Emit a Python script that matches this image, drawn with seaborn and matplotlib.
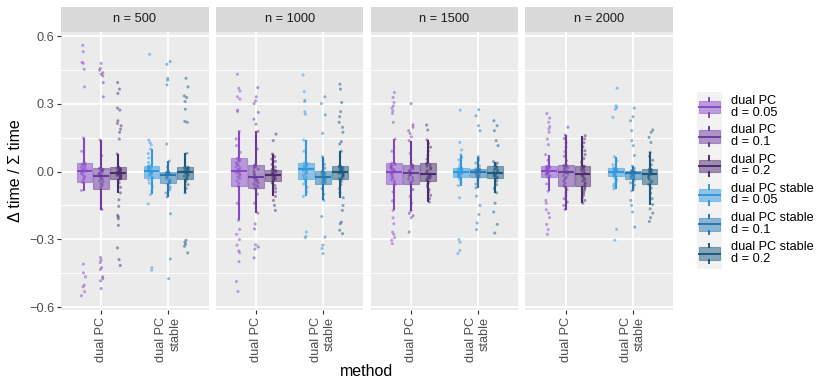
import matplotlib
matplotlib.use("Agg")
import matplotlib.pyplot as plt
import numpy as np
import pandas as pd
import seaborn as sns
from matplotlib.colors import to_rgba
from matplotlib.patches import Rectangle
from matplotlib.lines import Line2D
from matplotlib.legend_handler import HandlerBase

plt.rcParams['font.family'] = ['Liberation Sans', 'DejaVu Sans']

sizes = [500, 1000, 1500, 2000]
methods = ["dual PC", "dual PC stable"]
degrees = ["0.05", "0.1", "0.2"]
method_ticks = ["dual PC", "dual PC\nstable"]
purples = ["#8648c8", "#6b3a9e", "#4b2a6e"]
blues = ["#2e98e0", "#2478b4", "#1a587e"]

# delta time / sum time (one list per n / method / d)
n500_dual_005 = [-0.550, -0.532, -0.510, -0.503, -0.466, -0.449, -0.410, -0.084, -0.047, -0.038, -0.030, -0.022, -0.015, -0.008, -0.003, 0.001, 0.004, 0.009, 0.014, 0.019, 0.024, 0.028, 0.032, 0.035, 0.037, 0.090, 0.149, 0.375, 0.453, 0.479, 0.484, 0.531, 0.559]
n500_dual_01 = [-0.518, -0.484, -0.474, -0.466, -0.434, -0.425, -0.403, -0.393, -0.381, -0.168, -0.076, -0.068, -0.060, -0.053, -0.046, -0.040, -0.034, -0.029, -0.025, -0.021, -0.018, -0.014, -0.010, -0.006, -0.002, 0.002, 0.005, 0.008, 0.011, 0.013, 0.015, 0.070, 0.140, 0.331, 0.394, 0.424, 0.431, 0.438, 0.449, 0.457, 0.479]
n500_dual_02 = [-0.416, -0.390, -0.338, -0.238, -0.209, -0.201, -0.194, -0.154, -0.125, -0.094, -0.070, -0.050, -0.035, -0.032, -0.029, -0.026, -0.023, -0.020, -0.017, -0.015, -0.013, -0.011, -0.009, -0.008, -0.007, -0.005, -0.003, -0.001, 0.001, 0.003, 0.005, 0.008, 0.010, 0.012, 0.015, 0.017, 0.019, 0.078, 0.144, 0.174, 0.188, 0.203, 0.213, 0.225, 0.272, 0.281, 0.346, 0.365, 0.394]
n500_stable_005 = [-0.437, -0.425, -0.143, -0.101, -0.085, -0.068, -0.052, -0.038, -0.028, -0.023, -0.018, -0.013, -0.009, -0.005, -0.002, 0.000, 0.001, 0.004, 0.008, 0.011, 0.015, 0.018, 0.021, 0.024, 0.026, 0.040, 0.060, 0.080, 0.100, 0.118, 0.128, 0.140, 0.519]
n500_stable_01 = [-0.474, -0.387, -0.187, -0.113, -0.095, -0.080, -0.068, -0.058, -0.050, -0.045, -0.040, -0.035, -0.030, -0.025, -0.020, -0.016, -0.013, -0.011, -0.009, -0.007, -0.005, -0.004, -0.002, -0.001, 0.000, 0.020, 0.046, 0.122, 0.384, 0.404, 0.413, 0.475, 0.487]
n500_stable_02 = [-0.360, -0.331, -0.322, -0.313, -0.304, -0.094, -0.075, -0.058, -0.045, -0.035, -0.030, -0.025, -0.021, -0.017, -0.013, -0.010, -0.007, -0.005, -0.003, 0.000, 0.003, 0.006, 0.009, 0.011, 0.014, 0.016, 0.018, 0.019, 0.081, 0.218, 0.222, 0.276, 0.310, 0.328, 0.335, 0.375, 0.413]

n1000_dual_005 = [-0.531, -0.487, -0.399, -0.359, -0.351, -0.326, -0.301, -0.278, -0.256, -0.216, -0.140, -0.065, -0.052, -0.041, -0.031, -0.023, -0.016, -0.010, -0.005, -0.001, 0.001, 0.003, 0.004, 0.009, 0.015, 0.021, 0.027, 0.033, 0.039, 0.044, 0.049, 0.053, 0.056, 0.059, 0.085, 0.115, 0.145, 0.178, 0.266, 0.272, 0.321, 0.331, 0.357, 0.369, 0.431]
n1000_dual_01 = [-0.382, -0.343, -0.334, -0.324, -0.254, -0.232, -0.184, -0.140, -0.100, -0.074, -0.068, -0.062, -0.056, -0.050, -0.044, -0.038, -0.033, -0.029, -0.025, -0.018, -0.011, -0.004, 0.003, 0.010, 0.016, 0.021, 0.025, 0.029, 0.100, 0.178, 0.210, 0.232, 0.262, 0.301, 0.313, 0.331, 0.372]
n1000_dual_02 = [-0.172, -0.150, -0.128, -0.110, -0.090, -0.075, -0.062, -0.050, -0.040, -0.037, -0.034, -0.031, -0.027, -0.024, -0.020, -0.017, -0.015, -0.012, -0.009, -0.006, -0.002, 0.001, 0.004, 0.007, 0.009, 0.020, 0.032, 0.045, 0.055, 0.066, 0.078, 0.137, 0.166]
n1000_stable_005 = [-0.293, -0.287, -0.268, -0.110, -0.090, -0.070, -0.055, -0.042, -0.032, -0.025, -0.018, -0.011, -0.005, 0.000, 0.004, 0.007, 0.010, 0.014, 0.018, 0.022, 0.026, 0.030, 0.033, 0.036, 0.038, 0.090, 0.140, 0.254, 0.265, 0.310, 0.316, 0.354, 0.428]
n1000_stable_01 = [-0.363, -0.341, -0.326, -0.290, -0.199, -0.128, -0.100, -0.075, -0.054, -0.050, -0.046, -0.042, -0.038, -0.034, -0.031, -0.028, -0.025, -0.021, -0.018, -0.014, -0.010, -0.007, -0.004, -0.001, 0.001, 0.015, 0.032, 0.050, 0.066, 0.169, 0.251, 0.301, 0.331]
n1000_stable_02 = [-0.275, -0.260, -0.231, -0.224, -0.172, -0.150, -0.116, -0.095, -0.075, -0.058, -0.045, -0.035, -0.031, -0.027, -0.023, -0.019, -0.016, -0.013, -0.010, -0.008, -0.006, -0.004, -0.003, 0.000, 0.003, 0.006, 0.009, 0.012, 0.015, 0.018, 0.020, 0.022, 0.024, 0.026, 0.090, 0.122, 0.132, 0.174, 0.196, 0.218, 0.243, 0.265, 0.306, 0.365, 0.387]

n1500_dual_005 = [-0.319, -0.304, -0.293, -0.278, -0.268, -0.231, -0.205, -0.172, -0.130, -0.090, -0.057, -0.050, -0.043, -0.036, -0.029, -0.022, -0.016, -0.010, -0.005, -0.002, 0.000, 0.004, 0.008, 0.012, 0.016, 0.020, 0.024, 0.028, 0.031, 0.034, 0.037, 0.090, 0.144, 0.218, 0.257, 0.269, 0.281, 0.291, 0.306, 0.328, 0.350]
n1500_dual_01 = [-0.268, -0.204, -0.195, -0.185, -0.175, -0.140, -0.110, -0.080, -0.054, -0.047, -0.040, -0.033, -0.026, -0.019, -0.013, -0.010, -0.007, -0.002, 0.003, 0.008, 0.013, 0.018, 0.022, 0.026, 0.029, 0.080, 0.137, 0.154, 0.169, 0.181, 0.196, 0.207, 0.301]
n1500_dual_02 = [-0.135, -0.120, -0.105, -0.092, -0.080, -0.068, -0.057, -0.047, -0.040, -0.036, -0.032, -0.028, -0.024, -0.020, -0.016, -0.013, -0.010, -0.003, 0.004, 0.011, 0.018, 0.024, 0.030, 0.034, 0.038, 0.055, 0.072, 0.090, 0.108, 0.124, 0.140, 0.184, 0.206]
n1500_stable_005 = [-0.363, -0.349, -0.313, -0.301, -0.116, -0.062, -0.048, -0.035, -0.025, -0.022, -0.019, -0.016, -0.013, -0.010, -0.007, -0.005, -0.003, 0.000, 0.003, 0.006, 0.008, 0.011, 0.013, 0.015, 0.016, 0.028, 0.040, 0.052, 0.064, 0.075, 0.095, 0.129, 0.272]
n1500_stable_01 = [-0.257, -0.228, -0.190, -0.150, -0.109, -0.072, -0.055, -0.038, -0.025, -0.022, -0.019, -0.016, -0.013, -0.010, -0.007, -0.005, -0.003, -0.001, 0.001, 0.003, 0.005, 0.007, 0.009, 0.011, 0.012, 0.025, 0.038, 0.052, 0.066, 0.181, 0.203, 0.247, 0.274]
n1500_stable_02 = [-0.272, -0.234, -0.179, -0.140, -0.094, -0.075, -0.058, -0.042, -0.029, -0.026, -0.023, -0.020, -0.017, -0.014, -0.011, -0.008, -0.006, -0.002, 0.002, 0.006, 0.010, 0.014, 0.018, 0.022, 0.025, 0.032, 0.038, 0.044, 0.115, 0.137, 0.181, 0.203, 0.225]

n2000_dual_005 = [-0.278, -0.257, -0.234, -0.204, -0.184, -0.169, -0.140, -0.128, -0.087, -0.055, -0.025, -0.021, -0.017, -0.013, -0.010, -0.007, -0.004, -0.002, -0.001, 0.000, 0.001, 0.004, 0.007, 0.010, 0.013, 0.016, 0.018, 0.020, 0.022, 0.023, 0.024, 0.050, 0.075, 0.119, 0.144, 0.174, 0.188, 0.199, 0.218, 0.237, 0.257]
n2000_dual_01 = [-0.168, -0.150, -0.135, -0.120, -0.105, -0.092, -0.080, -0.070, -0.062, -0.052, -0.043, -0.034, -0.026, -0.018, -0.011, -0.006, -0.003, 0.002, 0.007, 0.012, 0.017, 0.021, 0.025, 0.027, 0.029, 0.048, 0.068, 0.088, 0.108, 0.128, 0.146, 0.162, 0.196]
n2000_dual_02 = [-0.140, -0.128, -0.117, -0.106, -0.096, -0.087, -0.079, -0.072, -0.065, -0.057, -0.049, -0.041, -0.034, -0.027, -0.020, -0.014, -0.010, -0.004, 0.002, 0.008, 0.013, 0.018, 0.022, 0.024, 0.026, 0.042, 0.058, 0.075, 0.092, 0.110, 0.128, 0.145, 0.159]
n2000_stable_005 = [-0.304, -0.256, -0.076, -0.065, -0.055, -0.045, -0.036, -0.028, -0.021, -0.018, -0.015, -0.012, -0.009, -0.006, -0.004, -0.002, 0.000, 0.002, 0.004, 0.006, 0.008, 0.010, 0.012, 0.014, 0.016, 0.030, 0.048, 0.066, 0.240, 0.276, 0.284, 0.291, 0.369]
n2000_stable_01 = [-0.246, -0.179, -0.150, -0.128, -0.085, -0.072, -0.060, -0.050, -0.040, -0.032, -0.029, -0.026, -0.023, -0.020, -0.017, -0.014, -0.011, -0.009, -0.007, -0.006, -0.005, -0.004, -0.002, -0.001, 0.001, 0.002, 0.003, 0.004, 0.014, 0.024, 0.071, 0.115, 0.137, 0.181, 0.225, 0.243, 0.281]
n2000_stable_02 = [-0.221, -0.204, -0.184, -0.165, -0.146, -0.120, -0.095, -0.073, -0.057, -0.050, -0.043, -0.036, -0.029, -0.022, -0.017, -0.013, -0.010, -0.007, -0.004, -0.001, 0.002, 0.005, 0.008, 0.010, 0.012, 0.030, 0.050, 0.068, 0.085, 0.129, 0.151, 0.174, 0.184]

groups = {
    (500, "dual PC"): [n500_dual_005, n500_dual_01, n500_dual_02],
    (500, "dual PC stable"): [n500_stable_005, n500_stable_01, n500_stable_02],
    (1000, "dual PC"): [n1000_dual_005, n1000_dual_01, n1000_dual_02],
    (1000, "dual PC stable"): [n1000_stable_005, n1000_stable_01, n1000_stable_02],
    (1500, "dual PC"): [n1500_dual_005, n1500_dual_01, n1500_dual_02],
    (1500, "dual PC stable"): [n1500_stable_005, n1500_stable_01, n1500_stable_02],
    (2000, "dual PC"): [n2000_dual_005, n2000_dual_01, n2000_dual_02],
    (2000, "dual PC stable"): [n2000_stable_005, n2000_stable_01, n2000_stable_02],
}
rows = []
for (n, m), lists in groups.items():
    for d, vals in zip(degrees, lists):
        for v in vals:
            rows.append({"n": n, "method": m, "d": d, "delta": v})
df = pd.DataFrame(rows)


class BoxKey:
    def __init__(self, color):
        self.color = color


class BoxKeyHandler(HandlerBase):
    def create_artists(self, legend, orig, xd, yd, w, h, fontsize, trans):
        c = orig.color
        x0, y0 = -xd, -yd
        bg = Rectangle((x0 - 1.8, y0 + h / 2 - 11), w + 3.6, 22, facecolor="#f2f2f2",
                       edgecolor="none", transform=trans)
        box = Rectangle((x0, y0 + 0.18 * h), w, 0.64 * h, facecolor=to_rgba(c, 0.5),
                        edgecolor=to_rgba(c, 0.45), lw=0.8, transform=trans)
        med = Line2D([x0, x0 + w], [y0 + h / 2] * 2, color=c, lw=1.4, transform=trans)
        lo = Line2D([x0 + w / 2] * 2, [y0, y0 + 0.18 * h], color=c, lw=1.4, transform=trans)
        hi = Line2D([x0 + w / 2] * 2, [y0 + 0.82 * h, y0 + h], color=c, lw=1.4, transform=trans)
        return [bg, box, med, lo, hi]


np.random.seed(7)
fig, axes = plt.subplots(1, 4, figsize=(8.3, 3.89), dpi=100, sharey=True)
fig.subplots_adjust(left=61 / 830, right=673 / 830, bottom=1 - 310 / 389, top=1 - 32 / 389,
                    wspace=7.3 / 147.5)

for ax, n in zip(axes, sizes):
    ax.set_facecolor("#ebebeb")
    for m, pal in zip(methods, [purples, blues]):
        sub = df[(df.n == n) & (df.method == m)]
        sns.boxplot(data=sub, x="method", y="delta", hue="d", order=methods, hue_order=degrees,
                    palette=pal, width=0.75, gap=0.06, showfliers=False, showcaps=False,
                    saturation=1, linewidth=1.4, legend=False, ax=ax)
    for cont, c in zip(ax.containers, purples + blues):
        for b in cont.boxes:
            b.set_facecolor(to_rgba(c, 0.5))
            b.set_edgecolor(to_rgba(c, 0.45))
            b.set_linewidth(0.8)
        for ln in list(cont.whiskers) + list(cont.medians):
            ln.set_color(c)
            ln.set_linewidth(1.5)
    for m, pal in zip(methods, [purples, blues]):
        sub = df[(df.n == n) & (df.method == m)]
        sns.stripplot(data=sub, x="method", y="delta", hue="d", order=methods, hue_order=degrees,
                      palette=pal, dodge=True, jitter=0.1, size=2.2, alpha=0.5, linewidth=0,
                      legend=False, ax=ax)

    ax.set_xlim(-0.6, 1.6)
    ax.set_ylim(-0.613, 0.618)
    ax.set_xticks([0, 1])
    ax.set_xticklabels(method_ticks, rotation=90, ha="center", va="top", multialignment="right")
    ax.set_yticks([-0.45, -0.15, 0.15, 0.45], minor=True)
    ax.grid(which="major", color="white", lw=1.3)
    ax.grid(which="minor", axis="y", color="white", lw=0.65)
    ax.set_axisbelow(True)
    for s in ax.spines.values():
        s.set_visible(False)
    ax.tick_params(which="major", length=2.9, width=0.8, color="#333333", labelsize=9.2,
                   labelcolor="#4d4d4d", pad=2)
    ax.tick_params(which="minor", length=0)
    ax.set_xlabel("")
    ax.set_ylabel("")
    ax.add_patch(Rectangle((0, 1), 1, 25 / 278, transform=ax.transAxes, clip_on=False,
                           facecolor="#d9d9d9", edgecolor="none"))
    ax.text(0.5, 1 + 12.5 / 278, f"n = {n}", transform=ax.transAxes, ha="center",
            va="center", fontsize=9.2, color="#1a1a1a")

axes[0].set_yticks([-0.6, -0.3, 0.0, 0.3, 0.6])
axes[0].set_yticklabels(["\u22120.6", "\u22120.3", "0.0", "0.3", "0.6"])
for ax in axes[1:]:
    ax.tick_params(axis="y", which="both", left=False, labelleft=False)

fig.text(367 / 830, 1 - 372 / 389, "method", ha="center", va="center", fontsize=11.5)
fig.text(15 / 830, 1 - 171 / 389, "\u0394 time / \u03a3 time", rotation=90, ha="center",
         va="center", fontsize=11.5)

handles = [BoxKey(c) for c in purples + blues]
labels = [f"{m}\nd = {d}" for m in methods for d in degrees]
leg = fig.legend(handles, labels, handler_map={BoxKey: BoxKeyHandler()}, loc="upper left",
                 bbox_to_anchor=(699 / 830, 1 - 95 / 389), frameon=False, fontsize=9.2,
                 handlelength=1.63, handleheight=1.96, handletextpad=0.86, labelspacing=0.45,
                 borderpad=0, borderaxespad=0)
for t in leg.get_texts():
    t.set_linespacing(0.95)

fig.savefig("out.png", dpi=100)
